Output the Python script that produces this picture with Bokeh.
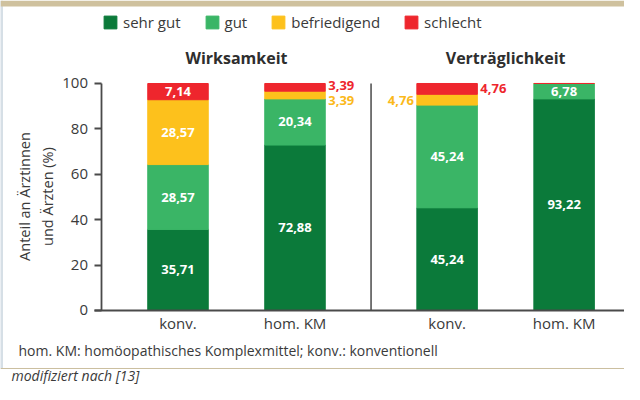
import numpy as np
from bokeh.plotting import figure
from bokeh.models import (ColumnDataSource, Range1d, FixedTicker, Legend, LegendItem,
                          Span, LinearAxis)
from bokeh.core.properties import value
from bokeh.embed import file_html
from bokeh.resources import INLINE

# ---------------- data ----------------
groups = ["Wirksamkeit", "Wirksamkeit", "Verträglichkeit", "Verträglichkeit"]
categories = ["konv.", "hom. KM", "konv.", "hom. KM"]
sehr_gut = [35.71, 72.88, 45.24, 93.22]
gut = [28.57, 20.34, 45.24, 6.78]
befriedigend = [28.57, 3.39, 4.76, 0.0]
schlecht = [7.14, 3.39, 4.76, 0.0]
rating_names = ["sehr gut", "gut", "befriedigend", "schlecht"]
y_ticks = [0, 20, 40, 60, 80, 100]
y_axis_title = ["Anteil an Ärztinnen", "und Ärzten (%)"]
footnote = "hom. KM: homöopathisches Komplexmittel; konv.: konventionell"
source_note = "modifiziert nach [13]"

# ---------------- style ----------------
FONT = "Open Sans"
TXT = "#3a3a3a"
AXIS = "#4a4a4a"
colors = ["#0b7a3a", "#3ab566", "#fdc11c", "#ee262d"]
label_colors = ["white", "white", "#fbb91a", "#ee262d"]
BAR_W = 0.517
GROUP_STRIDE = 2.3

series = [sehr_gut, gut, befriedigend, schlecht]
group_names = list(dict.fromkeys(groups))
xpos = []
count = {}
for g in groups:
    k = count.get(g, 0)
    count[g] = k + 1
    xpos.append(group_names.index(g) * GROUP_STRIDE + k)

data = dict(x=xpos)
for n, s in zip(rating_names, series):
    data[n] = s
src = ColumnDataSource(data)

p = figure(width=624, height=384,
           x_range=Range1d(-1.5171, 3.8162), y_range=Range1d(-32.6, 136.56),
           x_axis_type=None, y_axis_type=None,
           output_backend="svg", toolbar_location=None, min_border=0)
p.outline_line_color = None
p.background_fill_color = "white"

# decorative frame: tan strip on top, light strip on the left
p.add_layout(Span(location=135.2, dimension="width", line_color="#cfc19e", line_width=6))
p.segment(x0=[-1.5085], y0=[-25.55], x1=[-1.5085], y1=[136.56], line_color="#d6dfe6", line_width=3)

renderers = p.vbar_stack(rating_names, x="x", width=BAR_W, color=colors, source=src)

# legend
legend = Legend(items=[LegendItem(label=n, renderers=[r]) for n, r in zip(rating_names, renderers)],
                orientation="horizontal", location=(102, 352), margin=0, padding=0,
                glyph_width=16, glyph_height=16, label_height=16, label_standoff=5,
                spacing=23, border_line_color=None, background_fill_alpha=0,
                label_text_font=FONT, label_text_font_size="15px", label_text_color=TXT)
p.add_layout(legend)

# axes
yaxis = LinearAxis(fixed_location=-0.6496, ticker=FixedTicker(ticks=y_ticks), bounds=(0, 100),
                   axis_line_color=AXIS, axis_line_width=1.8,
                   major_tick_line_color=AXIS, major_tick_line_width=1.8,
                   major_tick_out=7, major_tick_in=0, minor_tick_out=0, minor_tick_in=0,
                   major_label_standoff=7, major_label_text_font=FONT,
                   major_label_text_font_size="15px", major_label_text_color=TXT)
p.add_layout(yaxis, "left")

xaxis = LinearAxis(fixed_location=0, ticker=FixedTicker(ticks=xpos), bounds=(-0.7137, 3.95),
                   major_label_overrides={float(x): c for x, c in zip(xpos, categories)},
                   axis_line_color=AXIS, axis_line_width=1.8,
                   major_tick_out=0, major_tick_in=0, minor_tick_out=0, minor_tick_in=0,
                   major_label_standoff=3, major_label_text_font=FONT,
                   major_label_text_font_size="15px", major_label_text_color=TXT)
p.add_layout(xaxis, "below")

# group divider
mid = (xpos[1] + xpos[2]) / 2
p.segment(x0=[mid], y0=[0], x1=[mid], y1=[100], line_color=AXIS, line_width=1.5)

# group titles
gx = [np.mean([x for x, g in zip(xpos, groups) if g == name]) for name in group_names]
p.text(x=gx, y=[111.4] * len(gx), text=group_names, text_font=value(FONT),
       text_font_style="bold", text_font_size="16px", text_color="#2e2e2e",
       text_align="center", text_baseline="middle")

# segment labels
bottoms = [0.0] * len(xpos)
mids = []
for s in series:
    row = []
    for i, v in enumerate(s):
        row.append(bottoms[i] + v / 2)
        bottoms[i] += v
    mids.append(row)

in_x, in_y, in_t = [], [], []
for si, s in enumerate(series):
    for i, v in enumerate(s):
        if v >= 6:
            in_x.append(xpos[i]); in_y.append(mids[si][i])
            in_t.append(f"{v:.2f}".replace(".", ","))
p.text(x=in_x, y=in_y, text=in_t, text_font=value(FONT), text_font_style="bold",
       text_font_size="13px", text_color="white", text_align="center", text_baseline="middle")

# small segments labelled outside the bar: (bar index, series index, side, y offset px)
outside = [(1, 2, "right", 5), (1, 3, "right", -2), (2, 2, "left", 1), (2, 3, "right", 0)]
for bi, si, side, dy in outside:
    v = series[si][bi]
    sign = 1 if side == "right" else -1
    p.text(x=[xpos[bi] + sign * BAR_W / 2], y=[mids[si][bi]],
           text=[f"{v:.2f}".replace(".", ",")], x_offset=sign * 3, y_offset=dy,
           text_font=value(FONT), text_font_style="bold", text_font_size="13px",
           text_color=label_colors[si], text_align="left" if side == "right" else "right",
           text_baseline="middle")

# y axis title (two lines, rotated)
p.text(x=[-1.312, -1.115], y=[50.2, 50.2], text=y_axis_title, angle=np.pi / 2,
       text_font=value(FONT), text_font_size="14.5px", text_color=TXT,
       text_align="center", text_baseline="middle")

# footnote and source
p.text(x=[-1.363], y=[-17.6], text=[footnote], text_font=value(FONT), text_font_size="14px",
       text_color=TXT, text_align="left", text_baseline="middle")
p.add_layout(Span(location=-25.55, dimension="width", line_color="#cbbf9f", line_width=1))
p.text(x=[-1.423], y=[-28.8], text=[source_note], text_font=value(FONT), text_font_size="14px",
       text_font_style="italic", text_color=TXT, text_align="left", text_baseline="middle")

open("out.html", "w").write(file_html(p, INLINE))
